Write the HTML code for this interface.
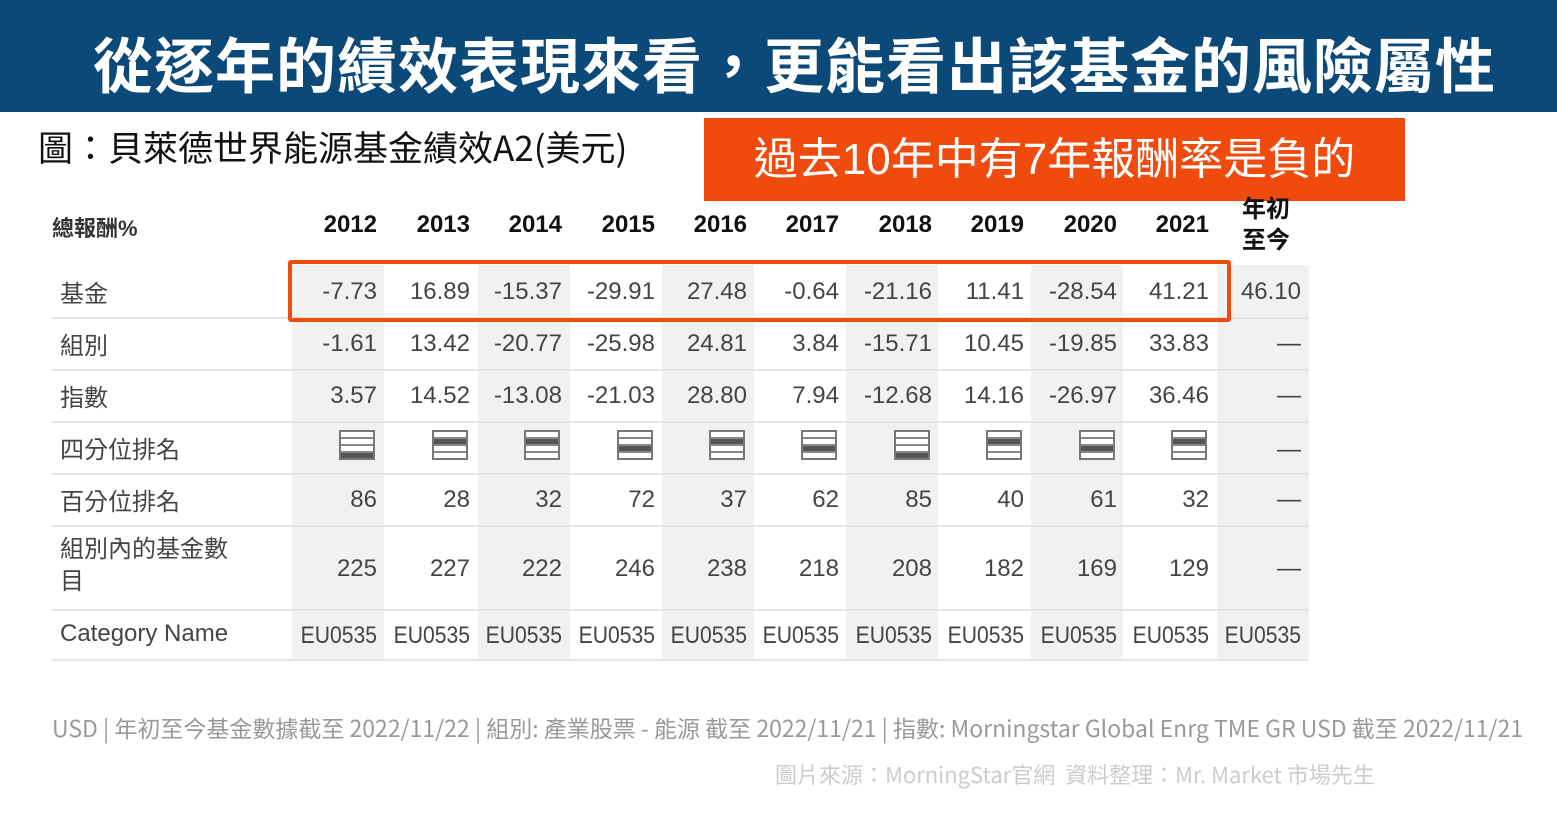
<!DOCTYPE html>
<html><head><meta charset="utf-8">
<style>
*{margin:0;padding:0;box-sizing:border-box}
body{width:1557px;height:815px;background:#fff;position:relative;overflow:hidden;font-family:"Liberation Sans Narrow","Liberation Sans","Noto Sans CJK TC",sans-serif}
.a{position:absolute;white-space:nowrap}
.bar{left:0;top:0;width:1557px;height:112px;background:#0b4a78}
.title{left:16px;top:26px;width:1557px;text-align:center;color:#fff;font:bold 60px "Liberation Sans","Noto Sans CJK TC",sans-serif;line-height:84px;letter-spacing:1px}
.sub{left:38px;top:125px;font-size:35px;color:#111;font-family:"Liberation Sans Narrow","Noto Sans CJK TC",sans-serif;line-height:44px}
.ob{left:704px;top:118px;width:701px;height:83px;background:#f04a0c;color:#fff;font:44px "Liberation Sans","Noto Sans CJK TC",sans-serif;text-align:center;line-height:83px}
.sh{background:#f1f1f1;top:265px;height:395px;width:92px}
.ln{left:52px;width:1256px;height:2px;background:#e4e4e4}
.lb{left:60px;font-size:24px;color:#444;font-family:"Liberation Sans","Noto Sans CJK TC",sans-serif}
.c{font-size:24px;color:#444;text-align:right;width:90px}
.e{transform:scaleX(0.88);transform-origin:right center}
.y{font-weight:bold;font-size:24px;color:#111;text-align:right;width:90px;font-family:"Liberation Sans","Noto Sans CJK TC",sans-serif}
.q{width:36px;height:30px;border:2px solid #777;display:flex;flex-direction:column;background:#fff}
.q i{flex:1;border-bottom:2px solid #888}
.q i:last-child{border-bottom:none}
.q i.d{background:#555}
.box{left:288px;top:260px;width:943px;height:62px;border:4px solid #f04a0c;border-radius:3px}
.fn{left:52px;top:710px;font-size:23px;color:#999;font-family:"Liberation Sans Narrow","Noto Sans CJK TC",sans-serif}
.src{left:775px;top:758px;font-size:22px;color:#ccc;font-family:"Liberation Sans Narrow","Noto Sans CJK TC",sans-serif}
</style></head><body>
<div class="a bar"></div>
<div class="a title">從逐年的績效表現來看，更能看出該基金的風險屬性</div>
<div class="a sub">圖：貝萊德世界能源基金績效A2(美元)</div>
<div class="a ob">過去10年中有7年報酬率是負的</div>

<div class="a sh" style="left:292px"></div>
<div class="a sh" style="left:478px"></div>
<div class="a sh" style="left:662px"></div>
<div class="a sh" style="left:846px"></div>
<div class="a sh" style="left:1031px"></div>
<div class="a sh" style="left:1217px"></div>

<div class="a ln" style="top:317px"></div>
<div class="a ln" style="top:369px"></div>
<div class="a ln" style="top:421px"></div>
<div class="a ln" style="top:473px"></div>
<div class="a ln" style="top:525px"></div>
<div class="a ln" style="top:609px"></div>
<div class="a ln" style="top:659px"></div>

<div class="a" style="left:52px;top:211px;font:bold 22px 'Liberation Sans','Noto Sans CJK TC',sans-serif;color:#333">總報酬%</div>
<div class="a y" style="left:287px;top:211px">2012</div>
<div class="a y" style="left:380px;top:211px">2013</div>
<div class="a y" style="left:472px;top:211px">2014</div>
<div class="a y" style="left:565px;top:211px">2015</div>
<div class="a y" style="left:657px;top:211px">2016</div>
<div class="a y" style="left:749px;top:211px">2017</div>
<div class="a y" style="left:842px;top:211px">2018</div>
<div class="a y" style="left:934px;top:211px">2019</div>
<div class="a y" style="left:1027px;top:211px">2020</div>
<div class="a y" style="left:1119px;top:211px">2021</div>
<div class="a" style="left:1242px;top:194px;font:bold 24px 'Liberation Sans','Noto Sans CJK TC',sans-serif;color:#111;line-height:31px;white-space:normal;width:60px">年初<br>至今</div>

<div class="a lb" style="top:274px">基金</div>
<div class="a lb" style="top:326px">組別</div>
<div class="a lb" style="top:378px">指數</div>
<div class="a lb" style="top:430px">四分位排名</div>
<div class="a lb" style="top:482px">百分位排名</div>
<div class="a lb" style="top:534px;line-height:32px">組別內的基金數<br>目</div>
<div class="a lb" style="top:620px">Category Name</div>

<div class="a c" style="left:287px;top:278px">-7.73</div><div class="a c" style="left:380px;top:278px">16.89</div><div class="a c" style="left:472px;top:278px">-15.37</div><div class="a c" style="left:565px;top:278px">-29.91</div><div class="a c" style="left:657px;top:278px">27.48</div><div class="a c" style="left:749px;top:278px">-0.64</div><div class="a c" style="left:842px;top:278px">-21.16</div><div class="a c" style="left:934px;top:278px">11.41</div><div class="a c" style="left:1027px;top:278px">-28.54</div><div class="a c" style="left:1119px;top:278px">41.21</div><div class="a c" style="left:1211px;top:278px">46.10</div>
<div class="a c" style="left:287px;top:330px">-1.61</div><div class="a c" style="left:380px;top:330px">13.42</div><div class="a c" style="left:472px;top:330px">-20.77</div><div class="a c" style="left:565px;top:330px">-25.98</div><div class="a c" style="left:657px;top:330px">24.81</div><div class="a c" style="left:749px;top:330px">3.84</div><div class="a c" style="left:842px;top:330px">-15.71</div><div class="a c" style="left:934px;top:330px">10.45</div><div class="a c" style="left:1027px;top:330px">-19.85</div><div class="a c" style="left:1119px;top:330px">33.83</div><div class="a c" style="left:1211px;top:330px">—</div>
<div class="a c" style="left:287px;top:382px">3.57</div><div class="a c" style="left:380px;top:382px">14.52</div><div class="a c" style="left:472px;top:382px">-13.08</div><div class="a c" style="left:565px;top:382px">-21.03</div><div class="a c" style="left:657px;top:382px">28.80</div><div class="a c" style="left:749px;top:382px">7.94</div><div class="a c" style="left:842px;top:382px">-12.68</div><div class="a c" style="left:934px;top:382px">14.16</div><div class="a c" style="left:1027px;top:382px">-26.97</div><div class="a c" style="left:1119px;top:382px">36.46</div><div class="a c" style="left:1211px;top:382px">—</div>

<div class="a q" style="left:339px;top:430px"><i></i><i></i><i></i><i class="d"></i></div>
<div class="a q" style="left:432px;top:430px"><i></i><i class="d"></i><i></i><i></i></div>
<div class="a q" style="left:524px;top:430px"><i></i><i class="d"></i><i></i><i></i></div>
<div class="a q" style="left:617px;top:430px"><i></i><i></i><i class="d"></i><i></i></div>
<div class="a q" style="left:709px;top:430px"><i></i><i class="d"></i><i></i><i></i></div>
<div class="a q" style="left:801px;top:430px"><i></i><i></i><i class="d"></i><i></i></div>
<div class="a q" style="left:894px;top:430px"><i></i><i></i><i></i><i class="d"></i></div>
<div class="a q" style="left:986px;top:430px"><i></i><i class="d"></i><i></i><i></i></div>
<div class="a q" style="left:1079px;top:430px"><i></i><i></i><i class="d"></i><i></i></div>
<div class="a q" style="left:1171px;top:430px"><i></i><i class="d"></i><i></i><i></i></div>
<div class="a c" style="left:1211px;top:436px">—</div>

<div class="a c" style="left:287px;top:486px">86</div><div class="a c" style="left:380px;top:486px">28</div><div class="a c" style="left:472px;top:486px">32</div><div class="a c" style="left:565px;top:486px">72</div><div class="a c" style="left:657px;top:486px">37</div><div class="a c" style="left:749px;top:486px">62</div><div class="a c" style="left:842px;top:486px">85</div><div class="a c" style="left:934px;top:486px">40</div><div class="a c" style="left:1027px;top:486px">61</div><div class="a c" style="left:1119px;top:486px">32</div><div class="a c" style="left:1211px;top:486px">—</div>
<div class="a c" style="left:287px;top:555px">225</div><div class="a c" style="left:380px;top:555px">227</div><div class="a c" style="left:472px;top:555px">222</div><div class="a c" style="left:565px;top:555px">246</div><div class="a c" style="left:657px;top:555px">238</div><div class="a c" style="left:749px;top:555px">218</div><div class="a c" style="left:842px;top:555px">208</div><div class="a c" style="left:934px;top:555px">182</div><div class="a c" style="left:1027px;top:555px">169</div><div class="a c" style="left:1119px;top:555px">129</div><div class="a c" style="left:1211px;top:555px">—</div>
<div class="a c e" style="left:287px;top:622px">EU0535</div><div class="a c e" style="left:380px;top:622px">EU0535</div><div class="a c e" style="left:472px;top:622px">EU0535</div><div class="a c e" style="left:565px;top:622px">EU0535</div><div class="a c e" style="left:657px;top:622px">EU0535</div><div class="a c e" style="left:749px;top:622px">EU0535</div><div class="a c e" style="left:842px;top:622px">EU0535</div><div class="a c e" style="left:934px;top:622px">EU0535</div><div class="a c e" style="left:1027px;top:622px">EU0535</div><div class="a c e" style="left:1119px;top:622px">EU0535</div><div class="a c e" style="left:1211px;top:622px">EU0535</div>

<div class="a box"></div>

<div class="a fn">USD | 年初至今基金數據截至 2022/11/22 | 組別: 產業股票 - 能源 截至 2022/11/21 | 指數: Morningstar Global Enrg TME GR USD 截至 2022/11/21</div>
<div class="a src">圖片來源：MorningStar官網&nbsp; 資料整理：Mr. Market 市場先生</div>
</body></html>
